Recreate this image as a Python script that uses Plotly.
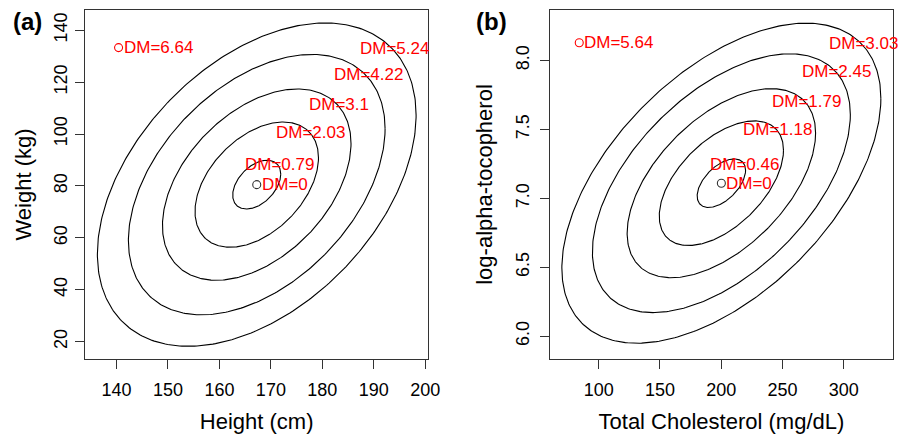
import numpy as np
import plotly.graph_objects as go

# ---------------- data ----------------
# Panel (a): Height vs Weight
a_mean = [167.25, 80.5]
a_sd = [5.91, 11.89]
a_rho = 0.43
a_levels = [0.79, 2.03, 3.1, 4.22, 5.24]
a_label_x = [164.5, 170.7, 177.0, 181.8, 186.9]
a_label_y = [88.3, 100.7, 111.5, 122.8, 133.1]
a_outlier = [140.4, 133.3]
a_outlier_dm = 6.64

# Panel (b): Total cholesterol vs log-alpha-tocopherol
b_mean = [200.1, 7.11]
b_sd = [42.97, 0.383]
b_rho = 0.53
b_levels = [0.46, 1.18, 1.79, 2.45, 3.03]
b_label_x = [189.1, 216.5, 239.6, 264.0, 286.0]
b_label_y = [7.248, 7.497, 7.705, 7.923, 8.123]
b_outlier = [84.1, 8.128]
b_outlier_dm = 5.64

a_xticks = [140, 150, 160, 170, 180, 190, 200]
a_yticks = [20, 40, 60, 80, 100, 120, 140]
b_xticks = [100, 150, 200, 250, 300]
b_yticks = [6.0, 6.5, 7.0, 7.5, 8.0]

FONT = "Liberation Sans, Arial, Helvetica, sans-serif"
W, H = 906, 434
OFF = 8  # page body margin of the html page


def px_x(v):
    return (v - OFF) / W


def px_y(v):
    return 1 - (v - OFF) / H


fig = go.Figure()


def ellipse(mean, sd, rho, d, n=361):
    t = np.linspace(0, 2 * np.pi, n)
    x = mean[0] + d * sd[0] * np.cos(t)
    y = mean[1] + d * sd[1] * (rho * np.cos(t) + np.sqrt(1 - rho ** 2) * np.sin(t))
    return x, y


def fmt(v):
    return ("%g" % v)


annotations = []
LABEL_FONT = dict(color="red", size=17, family=FONT)


def add_panel(xa, ya, mean, sd, rho, levels, lx, ly, outlier, out_dm):
    for d in levels:
        x, y = ellipse(mean, sd, rho, d)
        fig.add_trace(go.Scatter(x=x, y=y, mode="lines", xaxis=xa, yaxis=ya,
                                 line=dict(color="black", width=1.1),
                                 hoverinfo="skip", showlegend=False))
    fig.add_trace(go.Scatter(x=[mean[0]], y=[mean[1]], mode="markers", xaxis=xa, yaxis=ya,
                             marker=dict(symbol="circle-open", size=8, color="#333333",
                                         line=dict(width=1.1)),
                             showlegend=False))
    fig.add_trace(go.Scatter(x=[outlier[0]], y=[outlier[1]], mode="markers", xaxis=xa, yaxis=ya,
                             marker=dict(symbol="circle-open", size=8, color="red",
                                         line=dict(width=1.1)),
                             showlegend=False))
    for d, x, y in zip(levels, lx, ly):
        annotations.append(dict(x=x, y=y, xref=xa, yref=ya, text="DM=" + fmt(d),
                                showarrow=False, xanchor="left", yanchor="middle",
                                font=LABEL_FONT))
    annotations.append(dict(x=mean[0], y=mean[1], xref=xa, yref=ya, text="DM=0",
                            showarrow=False, xanchor="left", yanchor="middle", xshift=3,
                            font=LABEL_FONT))
    annotations.append(dict(x=outlier[0], y=outlier[1], xref=xa, yref=ya,
                            text="DM=" + fmt(out_dm),
                            showarrow=False, xanchor="left", yanchor="middle", xshift=3,
                            font=LABEL_FONT))


add_panel("x", "y", a_mean, a_sd, a_rho, a_levels, a_label_x, a_label_y, a_outlier, a_outlier_dm)
add_panel("x2", "y2", b_mean, b_sd, b_rho, b_levels, b_label_x, b_label_y, b_outlier, b_outlier_dm)

annotations.append(dict(x=px_x(28), y=px_y(21), xref="paper", yref="paper", text="<b>(a)</b>",
                        showarrow=False, xanchor="center", yanchor="middle",
                        font=dict(size=24, family=FONT, color="black")))
annotations.append(dict(x=px_x(498), y=px_y(21), xref="paper", yref="paper", text="<b>(b)</b>",
                        showarrow=False, xanchor="center", yanchor="middle",
                        font=dict(size=24, family=FONT, color="black")))

axis_common = dict(showgrid=False, zeroline=False, showline=True, mirror=True,
                   linecolor="#333333", linewidth=1.2, ticks="outside", ticklen=9,
                   tickwidth=1.2, tickcolor="#333333",
                   tickfont=dict(size=18, family=FONT, color="black"),
                   title_font=dict(size=22, family=FONT, color="black"))

y_dom = [px_y(359), px_y(10)]

fig.update_layout(
    width=W, height=H,
    margin=dict(l=0, r=0, t=0, b=0),
    plot_bgcolor="white", paper_bgcolor="white",
    showlegend=False,
    annotations=annotations,
    xaxis=dict(axis_common, domain=[px_x(86), px_x(434)], range=[133.87, 200.6],
               tickvals=a_xticks, ticklabelstandoff=5,
               title=dict(text="Height (cm)", standoff=14)),
    yaxis=dict(axis_common, domain=y_dom, range=[13.3, 147.8], anchor="x",
               tickvals=a_yticks, tickangle=-90, ticklabelstandoff=1,
               title=dict(text="Weight (kg)", standoff=12)),
    xaxis2=dict(axis_common, domain=[px_x(557), px_x(905)], range=[60.0, 340.3], anchor="y2",
                tickvals=b_xticks, ticklabelstandoff=5,
                title=dict(text="Total Cholesterol (mg/dL)", standoff=14)),
    yaxis2=dict(axis_common, domain=y_dom, range=[5.835, 8.366], anchor="x2",
                tickvals=b_yticks, ticktext=["%.1f" % v for v in b_yticks], tickangle=-90,
                ticklabelstandoff=3,
                title=dict(text="log-alpha-tocopherol", standoff=14)),
)

fig.write_html("out.html")
